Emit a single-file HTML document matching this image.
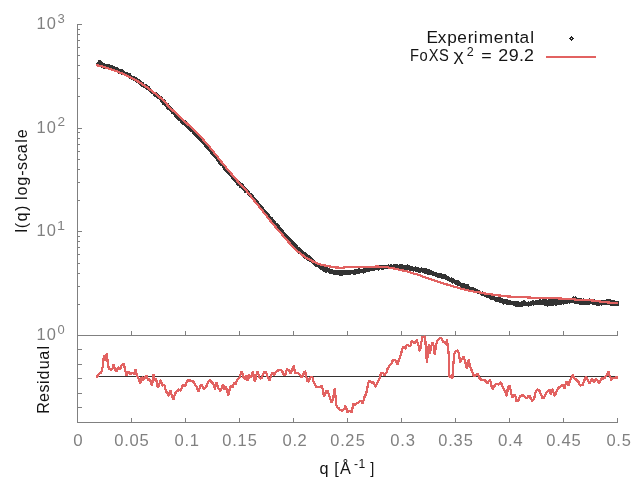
<!DOCTYPE html>
<html><head><meta charset="utf-8"><title>FoXS fit</title>
<style>
html,body{margin:0;padding:0;background:#fff;}
body{width:640px;height:480px;overflow:hidden;font-family:"Liberation Sans",sans-serif;}
svg{display:block;will-change:transform;}
svg text{font-family:"Liberation Sans",sans-serif;font-kerning:none;}
.tk{fill:#808080;}
.lb{fill:#141414;}
</style></head><body>
<svg width="640" height="480" viewBox="0 0 640 480">
<rect x="0" y="0" width="640" height="480" fill="#ffffff"/>
<g fill="#808080" shape-rendering="crispEdges">
<rect x="77" y="24" width="1" height="399"/>
<rect x="77" y="335" width="541" height="1"/>
<rect x="77" y="422" width="541" height="1"/>
<rect x="131" y="331" width="1" height="4"/>
<rect x="131" y="418" width="1" height="4"/>
<rect x="185" y="331" width="1" height="4"/>
<rect x="185" y="418" width="1" height="4"/>
<rect x="239" y="331" width="1" height="4"/>
<rect x="239" y="418" width="1" height="4"/>
<rect x="293" y="331" width="1" height="4"/>
<rect x="293" y="418" width="1" height="4"/>
<rect x="347" y="331" width="1" height="4"/>
<rect x="347" y="418" width="1" height="4"/>
<rect x="401" y="331" width="1" height="4"/>
<rect x="401" y="418" width="1" height="4"/>
<rect x="455" y="331" width="1" height="4"/>
<rect x="455" y="418" width="1" height="4"/>
<rect x="509" y="331" width="1" height="4"/>
<rect x="509" y="418" width="1" height="4"/>
<rect x="563" y="331" width="1" height="4"/>
<rect x="563" y="418" width="1" height="4"/>
<rect x="617" y="331" width="1" height="4"/>
<rect x="617" y="418" width="1" height="4"/>
<rect x="78" y="24" width="4" height="1"/>
<rect x="78" y="29" width="2" height="1"/>
<rect x="78" y="34" width="2" height="1"/>
<rect x="78" y="40" width="2" height="1"/>
<rect x="78" y="47" width="2" height="1"/>
<rect x="78" y="55" width="2" height="1"/>
<rect x="78" y="65" width="2" height="1"/>
<rect x="78" y="78" width="2" height="1"/>
<rect x="78" y="96" width="2" height="1"/>
<rect x="78" y="128" width="4" height="1"/>
<rect x="78" y="132" width="2" height="1"/>
<rect x="78" y="138" width="2" height="1"/>
<rect x="78" y="144" width="2" height="1"/>
<rect x="78" y="151" width="2" height="1"/>
<rect x="78" y="159" width="2" height="1"/>
<rect x="78" y="169" width="2" height="1"/>
<rect x="78" y="182" width="2" height="1"/>
<rect x="78" y="200" width="2" height="1"/>
<rect x="78" y="231" width="4" height="1"/>
<rect x="78" y="236" width="2" height="1"/>
<rect x="78" y="241" width="2" height="1"/>
<rect x="78" y="247" width="2" height="1"/>
<rect x="78" y="254" width="2" height="1"/>
<rect x="78" y="263" width="2" height="1"/>
<rect x="78" y="273" width="2" height="1"/>
<rect x="78" y="286" width="2" height="1"/>
<rect x="78" y="304" width="2" height="1"/>
<rect x="78" y="349" width="4" height="1"/>
<rect x="78" y="364" width="4" height="1"/>
<rect x="78" y="378" width="4" height="1"/>
<rect x="78" y="393" width="4" height="1"/>
<rect x="78" y="407" width="4" height="1"/>
</g>
<polygon shape-rendering="crispEdges" fill="#333333" points="95.8,63.15 96.8,62.36 97.8,61.42 98.8,60.08 99.8,59.92 100.8,60.65 101.8,61.82 102.8,61.99 103.8,63.1 104.8,63.43 105.8,63.99 106.8,64.22 107.8,63.62 108.8,64.25 109.8,64.39 110.8,65.35 111.8,65.54 112.8,65.18 113.8,66.37 114.8,66.18 115.8,66.79 116.8,67.7 117.8,67.37 118.8,68.21 119.8,68.93 120.8,69.72 121.8,69.38 122.8,69.44 123.8,69.73 124.8,71.18 125.8,71.78 126.8,71.97 127.8,72.3 128.8,73.31 129.8,73.44 130.8,73.5 131.8,74.96 132.8,75.84 133.8,75.87 134.8,76 135.8,76.85 136.8,77.33 137.8,78.07 138.8,79.08 139.8,79.28 140.8,80.65 141.8,81.74 142.8,81.71 143.8,82.54 144.8,84.1 145.8,83.72 146.8,84.52 147.8,85.74 148.8,85.64 149.8,86.87 150.8,88.81 151.8,88.92 152.8,89.9 153.8,91.05 154.8,91.86 155.8,92.02 156.8,92.46 157.8,93.24 158.8,94.28 159.8,95.31 160.8,95.67 161.8,96.65 162.8,97.39 163.8,99.05 164.8,99.39 165.8,100.59 166.8,102.37 167.8,102.93 168.8,103.5 169.8,104.96 170.8,106.74 171.8,106.71 172.8,108.52 173.8,109.64 174.8,110.72 175.8,112.18 176.8,112.29 177.8,113.12 178.8,114.59 179.8,115.27 180.8,116.9 181.8,117.92 182.8,118.83 183.8,118.97 184.8,120.11 185.8,120.61 186.8,121.89 187.8,123.83 188.8,124.79 189.8,125.79 190.8,125.74 191.8,126.69 192.8,128.27 193.8,129.55 194.8,130.27 195.8,130.45 196.8,132.59 197.8,133.34 198.8,133.52 199.8,134.72 200.8,136.73 201.8,137.08 202.8,138.68 203.8,138.99 204.8,141.23 205.8,141.31 206.8,143.63 207.8,143.89 208.8,144.74 209.8,147.06 210.8,147.59 211.8,148.6 212.8,150.33 213.8,150.78 214.8,152.02 215.8,153.29 216.8,154.37 217.8,155.93 218.8,157.5 219.8,158.53 220.8,159.89 221.8,161.18 222.8,162.31 223.8,162.95 224.8,164.44 225.8,166.38 226.8,166.96 227.8,168.42 228.8,168.93 229.8,170.27 230.8,172.14 231.8,172.99 232.8,174.62 233.8,175.34 234.8,176.34 235.8,177.4 236.8,178.57 237.8,179.94 238.8,181.16 239.8,181.51 240.8,182.78 241.8,182.65 242.8,183.47 243.8,184.36 244.8,186.44 245.8,186.64 246.8,188.44 247.8,189.83 248.8,189.99 249.8,191.33 250.8,193.24 251.8,193.17 252.8,194.78 253.8,195.53 254.8,197.47 255.8,198.44 256.8,198.89 257.8,200.93 258.8,201.35 259.8,203.56 260.8,203.81 261.8,204.92 262.8,206.44 263.8,207.85 264.8,209.61 265.8,209.84 266.8,211.59 267.8,212.07 268.8,214.07 269.8,214.37 270.8,216.32 271.8,216.71 272.8,217.84 273.8,219.54 274.8,220.84 275.8,221.6 276.8,223.13 277.8,223.59 278.8,224.31 279.8,225.48 280.8,227.26 281.8,228.13 282.8,229.16 283.8,230.26 284.8,232.18 285.8,232.66 286.8,234.81 287.8,235.65 288.8,236.19 289.8,237.05 290.8,238.46 291.8,238.98 292.8,240.52 293.8,241.2 294.8,241.82 295.8,242.94 296.8,244.31 297.8,245.17 298.8,247.36 299.8,247.39 300.8,248.27 301.8,248.93 302.8,249.94 303.8,251.78 304.8,251.62 305.8,252.56 306.8,252.96 307.8,254.47 308.8,254.92 309.8,255.49 310.8,256.45 311.8,257.2 312.8,258.37 313.8,259.56 314.8,260.59 315.8,261.34 316.8,261.69 317.8,263.26 318.8,263.49 319.8,263.14 320.8,264.93 321.8,265.31 322.8,265.08 323.8,266.18 324.8,267 325.8,267.09 326.8,267.63 327.8,267.39 328.8,267.66 329.8,268.02 330.8,268.89 331.8,269.19 332.8,269.2 333.8,269.83 334.8,269.61 335.8,270.03 336.8,270.25 337.8,269.37 338.8,270.32 339.8,270.38 340.8,270.07 341.8,270.09 342.8,270.51 343.8,270.3 344.8,269.56 345.8,270.36 346.8,270.07 347.8,269.32 348.8,270.14 349.8,270.03 350.8,269.69 351.8,269.5 352.8,269.99 353.8,269.99 354.8,268.52 355.8,269.5 356.8,268.85 357.8,268.37 358.8,268.24 359.8,268.04 360.8,269.07 361.8,268.78 362.8,268.77 363.8,267.75 364.8,268 365.8,267.2 366.8,267.69 367.8,267.12 368.8,267.23 369.8,266.65 370.8,267.69 371.8,267.6 372.8,267.3 373.8,266.3 374.8,266.91 375.8,265.75 376.8,265.37 377.8,264.9 378.8,265.02 379.8,264.84 380.8,265.07 381.8,264.74 382.8,265.32 383.8,264.83 384.8,265.21 385.8,264.84 386.8,264.8 387.8,264.78 388.8,264.07 389.8,264.91 390.8,264.22 391.8,263.93 392.8,264.83 393.8,264.34 394.8,264.15 395.8,263.56 396.8,263.64 397.8,264.12 398.8,264.77 399.8,264.21 400.8,263.93 401.8,264.22 402.8,264.15 403.8,264.68 404.8,264.99 405.8,264.58 406.8,264.59 407.8,264.25 408.8,265.74 409.8,265.31 410.8,266.03 411.8,265.43 412.8,265.82 413.8,266.8 414.8,266.88 415.8,265.91 416.8,267.31 417.8,267.08 418.8,267 419.8,267.75 420.8,268.09 421.8,267.02 422.8,267.73 423.8,268.45 424.8,268.18 425.8,268.26 426.8,268.08 427.8,268.75 428.8,269.72 429.8,269.4 430.8,270.51 431.8,270.12 432.8,271.01 433.8,271.12 434.8,271.72 435.8,271.61 436.8,272.83 437.8,273.01 438.8,272.34 439.8,273.6 440.8,272.92 441.8,273.43 442.8,273.56 443.8,274.16 444.8,274 445.8,274.62 446.8,275.57 447.8,276.2 448.8,276.25 449.8,277.37 450.8,277.64 451.8,277.3 452.8,277.9 453.8,278.68 454.8,278.79 455.8,279.91 456.8,279.66 457.8,280.22 458.8,280.58 459.8,280.93 460.8,282.56 461.8,282.64 462.8,283.18 463.8,282.41 464.8,283.46 465.8,283.61 466.8,283.64 467.8,283.93 468.8,284.66 469.8,286.18 470.8,286.77 471.8,286.5 472.8,287.69 473.8,287.05 474.8,287.95 475.8,288.15 476.8,289.58 477.8,289.35 478.8,290.3 479.8,289.71 480.8,291.39 481.8,291.59 482.8,291.46 483.8,292.76 484.8,292.23 485.8,292.68 486.8,292.6 487.8,294.24 488.8,294.64 489.8,294.01 490.8,295.38 491.8,294.91 492.8,295.27 493.8,296.27 494.8,296.4 495.8,296.74 496.8,296.74 497.8,296.65 498.8,297.63 499.8,297.15 500.8,297.56 501.8,297.59 502.8,298.34 503.8,299.45 504.8,298.78 505.8,298.74 506.8,299.8 507.8,299.34 508.8,300.08 509.8,300.46 510.8,300.51 511.8,300.92 512.8,300.69 513.8,301.09 514.8,300.56 515.8,300.59 516.8,301.35 517.8,301.27 518.8,301.6 519.8,302.2 520.8,302.07 521.8,300.83 522.8,301.02 523.8,300.04 524.8,300.3 525.8,301.64 526.8,301.72 527.8,301.78 528.8,301.06 529.8,301.87 530.8,301.24 531.8,300.57 532.8,300.31 533.8,300.33 534.8,300.74 535.8,299.69 536.8,300.46 537.8,299.79 538.8,300.31 539.8,299.12 540.8,299.5 541.8,299.78 542.8,299.05 543.8,299.33 544.8,299.12 545.8,299.07 546.8,299.1 547.8,299.81 548.8,299.11 549.8,299.62 550.8,298.61 551.8,299.19 552.8,299.17 553.8,299.25 554.8,298.62 555.8,299.5 556.8,298.72 557.8,299.12 558.8,298.8 559.8,299.18 560.8,298.46 561.8,299.29 562.8,298.29 563.8,299.19 564.8,298.4 565.8,298.95 566.8,298.85 567.8,298.68 568.8,298.56 569.8,297.96 570.8,298.49 571.8,297.21 572.8,296.91 573.8,295.69 574.8,296.85 575.8,296.21 576.8,297.54 577.8,297.95 578.8,297.85 579.8,298.13 580.8,298.08 581.8,298.33 582.8,298.6 583.8,298.23 584.8,298.89 585.8,299.27 586.8,298.84 587.8,298.86 588.8,298.38 589.8,298.33 590.8,299.01 591.8,299.31 592.8,299.56 593.8,299.37 594.8,299.48 595.8,300.23 596.8,300.17 597.8,300.04 598.8,299.32 599.8,299.78 600.8,300.41 601.8,300.28 602.8,299.24 603.8,300.05 604.8,300.09 605.8,299.81 606.8,299.22 607.8,298.64 608.8,298.92 609.8,298.52 610.8,298.95 611.8,299.93 612.8,299.47 613.8,299.65 614.8,300.64 615.8,301.2 616.8,301.02 617.8,300.58 618.8,301.54 618.8,305.29 617.8,306.32 616.8,306.35 615.8,306.08 614.8,305.91 613.8,305.95 612.8,306.11 611.8,306.06 610.8,305.92 609.8,304.66 608.8,304.66 607.8,304.63 606.8,305.61 605.8,304.59 604.8,304.84 603.8,304.74 602.8,305.07 601.8,305.9 600.8,304.83 599.8,305.94 598.8,305.97 597.8,305.74 596.8,305.99 595.8,304.76 594.8,305.04 593.8,304.52 592.8,305.47 591.8,304.43 590.8,304.31 589.8,304.83 588.8,304.88 587.8,304.49 586.8,304.66 585.8,305.56 584.8,304.86 583.8,305.46 582.8,305.08 581.8,305.24 580.8,304.99 579.8,304.46 578.8,304.66 577.8,303.91 576.8,303.62 575.8,304.17 574.8,304.45 573.8,303.36 572.8,303.42 571.8,303.33 570.8,303.03 569.8,304.12 568.8,303.4 567.8,303.48 566.8,304.28 565.8,304.12 564.8,303.79 563.8,305.16 562.8,304.05 561.8,305.31 560.8,304.72 559.8,305.41 558.8,304.59 557.8,305.06 556.8,305.38 555.8,305.95 554.8,305.6 553.8,305.22 552.8,306.39 551.8,306.42 550.8,306.63 549.8,305.74 548.8,305.83 547.8,307.05 546.8,306.33 545.8,306.55 544.8,306.2 543.8,305.16 542.8,305.64 541.8,304.7 540.8,305.25 539.8,304.56 538.8,305.26 537.8,304.86 536.8,304.92 535.8,305.19 534.8,305.11 533.8,305.8 532.8,305.38 531.8,305.75 530.8,306.24 529.8,305.66 528.8,306.73 527.8,306.24 526.8,306.09 525.8,306.35 524.8,305.76 523.8,305.86 522.8,306.69 521.8,306.97 520.8,306.56 519.8,307.76 518.8,306.9 517.8,307.7 516.8,306.5 515.8,307.03 514.8,305.9 513.8,305.59 512.8,305.59 511.8,305.24 510.8,304.76 509.8,305.57 508.8,305.23 507.8,304.77 506.8,304.72 505.8,304.69 504.8,304.02 503.8,305.19 502.8,304.79 501.8,303.79 500.8,302.71 499.8,303.27 498.8,301.93 497.8,301.93 496.8,301.52 495.8,301.8 494.8,301.41 493.8,300.28 492.8,300.37 491.8,299.69 490.8,300.28 489.8,299.15 488.8,298.07 487.8,298.46 486.8,298.18 485.8,297.05 484.8,297.22 483.8,296.68 482.8,295.8 481.8,296.28 480.8,294.98 479.8,294.31 478.8,293.88 477.8,294.57 476.8,293.09 475.8,293.18 474.8,293.57 473.8,292.56 472.8,292.12 471.8,292.24 470.8,290.93 469.8,290.36 468.8,290.23 467.8,289.3 466.8,289.31 465.8,288.97 464.8,288.12 463.8,289.02 462.8,287.81 461.8,288.39 460.8,287.81 459.8,286.52 458.8,285.43 457.8,286.11 456.8,284.69 455.8,284.97 454.8,283.89 453.8,283.22 452.8,283.95 451.8,283.33 450.8,282.25 449.8,281.98 448.8,281.31 447.8,281.54 446.8,280.26 445.8,280.05 444.8,278.99 443.8,279.72 442.8,278.53 441.8,278.88 440.8,277.72 439.8,278.44 438.8,277.56 437.8,277.64 436.8,277.59 435.8,277.03 434.8,276.09 433.8,276.09 432.8,276.29 431.8,275.27 430.8,275.8 429.8,274.77 428.8,274.45 427.8,274.91 426.8,274.32 425.8,273.59 424.8,273.55 423.8,273.4 422.8,273.24 421.8,272.41 420.8,272.44 419.8,273.2 418.8,273.2 417.8,271.72 416.8,272.19 415.8,272.33 414.8,271.17 413.8,272.14 412.8,271.38 411.8,270.91 410.8,270.66 409.8,271.04 408.8,270.14 407.8,270.15 406.8,270.1 405.8,270.26 404.8,270.01 403.8,270.57 402.8,269.59 401.8,269.24 400.8,269.11 399.8,269.05 398.8,270.12 397.8,268.91 396.8,269.74 395.8,268.61 394.8,268.89 393.8,268.72 392.8,268.63 391.8,269.26 390.8,268.66 389.8,268.34 388.8,268.27 387.8,269.14 386.8,268.91 385.8,268.39 384.8,269.13 383.8,269.68 382.8,269.69 381.8,270.05 380.8,269.14 379.8,269.4 378.8,270.5 377.8,270.52 376.8,269.61 375.8,270.34 374.8,270.76 373.8,270.69 372.8,270.75 371.8,271.54 370.8,270.93 369.8,272.05 368.8,272.41 367.8,271.96 366.8,272.14 365.8,272.65 364.8,272.22 363.8,273.6 362.8,273.49 361.8,273.37 360.8,273.01 359.8,273.72 358.8,273.96 357.8,274.6 356.8,273.79 355.8,274.91 354.8,274.33 353.8,275.14 352.8,274.24 351.8,274.26 350.8,274.88 349.8,274.77 348.8,275.46 347.8,274.95 346.8,274.67 345.8,275.16 344.8,275.17 343.8,275 342.8,275.84 341.8,275.92 340.8,275.44 339.8,276.21 338.8,275.08 337.8,275.11 336.8,275.03 335.8,274.63 334.8,275.05 333.8,275.11 332.8,273.83 331.8,274.53 330.8,274.22 329.8,274.24 328.8,273.17 327.8,272.31 326.8,272.84 325.8,272.72 324.8,272.23 323.8,271.84 322.8,270.81 321.8,270.62 320.8,269.76 319.8,269.45 318.8,268.58 317.8,267.29 316.8,266.86 315.8,266.93 314.8,265.92 313.8,265.04 312.8,263.92 311.8,262.92 310.8,262.75 309.8,261.86 308.8,261.5 307.8,260.8 306.8,259.94 305.8,259.21 304.8,259.34 303.8,257.96 302.8,257.74 301.8,256.21 300.8,255.43 299.8,254.33 298.8,254.13 297.8,253.23 296.8,251.12 295.8,250.77 294.8,248.75 293.8,247.89 292.8,247.14 291.8,246.34 290.8,245.51 289.8,243.8 288.8,243.22 287.8,241.62 286.8,240.12 285.8,239.51 284.8,238.39 283.8,236.4 282.8,235.18 281.8,234.17 280.8,233.09 279.8,231.94 278.8,230.88 277.8,229.9 276.8,228.87 275.8,227.47 274.8,227.35 273.8,225.29 272.8,224.78 271.8,223.53 270.8,222.21 269.8,221.17 268.8,219.21 267.8,217.45 266.8,217.11 265.8,216.18 264.8,214.02 263.8,213.74 262.8,211.44 261.8,211.15 260.8,209.23 259.8,209.02 258.8,207.84 257.8,205.98 256.8,204.52 255.8,203.48 254.8,201.69 253.8,200.91 252.8,199.73 251.8,198.78 250.8,198.32 249.8,196.81 248.8,196.43 247.8,195.42 246.8,193.24 245.8,193.01 244.8,193.34 243.8,191.99 242.8,190.35 241.8,189.59 240.8,188.12 239.8,188.21 238.8,186.22 237.8,186.04 236.8,185.03 235.8,183.34 234.8,182.45 233.8,181.06 232.8,179.86 231.8,179.18 230.8,177.71 229.8,176.26 228.8,175.54 227.8,174.73 226.8,173.24 225.8,172.18 224.8,170.91 223.8,170.13 222.8,168.03 221.8,166.56 220.8,166.04 219.8,165.34 218.8,164.08 217.8,162.21 216.8,161.61 215.8,159.68 214.8,158.67 213.8,157.02 212.8,155.67 211.8,155.41 210.8,154.34 209.8,152.78 208.8,150.73 207.8,150.32 206.8,149.31 205.8,148.39 204.8,147.2 203.8,145.12 202.8,143.99 201.8,143.91 200.8,141.98 199.8,141.43 198.8,140.43 197.8,139.01 196.8,138.46 195.8,137.31 194.8,136.52 193.8,135.1 192.8,134.7 191.8,132.75 190.8,131.8 189.8,131.01 188.8,130.91 187.8,129.17 186.8,128.56 185.8,127.04 184.8,125.75 183.8,125.5 182.8,124.87 181.8,124.02 180.8,123.33 179.8,121.32 178.8,121.16 177.8,120.21 176.8,118.71 175.8,118.23 174.8,117.66 173.8,115.28 172.8,114.4 171.8,114.47 170.8,112.32 169.8,111.41 168.8,110.13 167.8,109.62 166.8,109.28 165.8,107.01 164.8,106.31 163.8,105.15 162.8,105.29 161.8,103.69 160.8,102.52 159.8,100.4 158.8,99.67 157.8,98.66 156.8,98.57 155.8,97.36 154.8,97.04 153.8,96.14 152.8,94.24 151.8,94.22 150.8,93.54 149.8,92.59 148.8,91.6 147.8,90.6 146.8,90.13 145.8,89 144.8,88.11 143.8,88.35 142.8,86.92 141.8,86.76 140.8,86.01 139.8,84.65 138.8,84.63 137.8,83.13 136.8,83.24 135.8,81.71 134.8,81.57 133.8,81.24 132.8,80.08 131.8,80.46 130.8,79.43 129.8,78.76 128.8,78.53 127.8,77.22 126.8,76.92 125.8,76.09 124.8,76.01 123.8,75.71 122.8,75.02 121.8,74.95 120.8,73.62 119.8,73.42 118.8,73.8 117.8,72.94 116.8,72.67 115.8,71.67 114.8,71.66 113.8,71.11 112.8,70.48 111.8,69.96 110.8,70.08 109.8,70.05 108.8,70.06 107.8,68.84 106.8,68.84 105.8,68.26 104.8,68.51 103.8,69.04 102.8,67.78 101.8,68.4 100.8,67.14 99.8,67.4 98.8,67.34 97.8,67.01 96.8,66.42 95.8,66.11"/>
<polyline shape-rendering="crispEdges" fill="none" stroke="#e26261" stroke-width="2.25" stroke-linejoin="round" stroke-linecap="butt" points="96.25,65.25 98.25,65.57 100.25,65.98 102.25,66.44 104.25,66.99 106.25,67.65 108.25,68.33 110.25,68.99 112.25,69.65 114.25,70.33 116.25,71.07 118.25,71.86 120.25,72.68 122.25,73.53 124.25,74.41 126.25,75.32 128.25,76.25 130.25,77.21 132.25,78.21 134.25,79.27 136.25,80.43 138.25,81.65 140.25,82.91 142.25,84.2 144.25,85.53 146.25,86.9 148.25,88.32 150.25,89.8 152.25,91.31 154.25,92.86 156.25,94.45 158.25,96.09 160.25,97.72 162.25,99.36 164.25,101.15 166.25,103.37 168.25,105.94 170.25,108 172.25,109.81 174.25,111.57 176.25,113.41 178.25,115.28 180.25,117.16 182.25,119.04 184.25,120.92 186.25,122.81 188.25,124.71 190.25,126.62 192.25,128.54 194.25,130.49 196.25,132.45 198.25,134.45 200.25,136.51 202.25,138.64 204.25,140.84 206.25,143.1 208.25,145.44 210.25,147.84 212.25,150.29 214.25,152.79 216.25,155.33 218.25,157.87 220.25,160.38 222.25,162.87 224.25,165.33 226.25,167.77 228.25,170.18 230.25,172.57 232.25,174.93 234.25,177.26 236.25,179.57 238.25,181.86 240.25,184.13 242.25,186.37 244.25,188.52 246.25,190.6 248.25,193.01 250.25,195.6 252.25,198.19 254.25,200.68 256.25,203.16 258.25,205.63 260.25,208.11 262.25,210.58 264.25,213.06 266.25,215.58 268.25,218.13 270.25,220.66 272.25,223.13 274.25,225.56 276.25,227.94 278.25,230.26 280.25,232.48 282.25,234.69 284.25,236.99 286.25,239.4 288.25,241.68 290.25,243.88 292.25,245.99 294.25,248.03 296.25,250 298.25,251.82 300.25,253.47 302.25,254.99 304.25,256.4 306.25,257.71 308.25,258.93 310.25,260.07 312.25,261.12 314.25,262.12 316.25,263.02 318.25,263.75 320.25,264.36 322.25,264.89 324.25,265.36 326.25,265.79 328.25,266.18 330.25,266.55 332.25,266.93 334.25,267.28 336.25,267.5 338.25,267.62 340.25,267.71 342.25,267.75 344.25,267.55 346.25,267.14 348.25,266.97 350.25,266.92 352.25,266.9 354.25,266.9 356.25,266.9 358.25,266.9 360.25,266.9 362.25,266.9 364.25,266.9 366.25,266.89 368.25,266.85 370.25,266.79 372.25,266.71 374.25,266.65 376.25,266.61 378.25,266.61 380.25,266.68 382.25,266.79 384.25,266.94 386.25,267.17 388.25,267.47 390.25,267.79 392.25,268.16 394.25,268.57 396.25,269 398.25,269.44 400.25,269.89 402.25,270.34 404.25,270.78 406.25,271.25 408.25,271.8 410.25,272.41 412.25,273.02 414.25,273.62 416.25,274.21 418.25,274.84 420.25,275.52 422.25,276.25 424.25,276.98 426.25,277.69 428.25,278.38 430.25,279.06 432.25,279.74 434.25,280.42 436.25,281.09 438.25,281.75 440.25,282.39 442.25,283.03 444.25,283.66 446.25,284.27 448.25,284.87 450.25,285.47 452.25,286.07 454.25,286.67 456.25,287.25 458.25,287.83 460.25,288.39 462.25,288.94 464.25,289.44 466.25,289.93 468.25,290.39 470.25,290.84 472.25,291.29 474.25,291.68 476.25,291.96 478.25,292.18 480.25,292.51 482.25,292.94 484.25,293.36 486.25,293.7 488.25,293.99 490.25,294.26 492.25,294.54 494.25,294.82 496.25,295.09 498.25,295.35 500.25,295.6 502.25,295.83 504.25,296.05 506.25,296.27 508.25,296.46 510.25,296.62 512.25,296.73 514.25,296.82 516.25,296.9 518.25,296.97 520.25,297.02 522.25,297.09 524.25,297.2 526.25,297.34 528.25,297.47 530.25,297.58 532.25,297.68 534.25,297.74 536.25,297.75 538.25,297.75 540.25,297.75 542.25,297.75 544.25,297.75 546.25,297.75 548.25,297.75 550.25,297.75 552.25,297.75 554.25,297.87 556.25,298.18 558.25,298.46 560.25,298.58 562.25,298.67 564.25,298.73 566.25,298.79 568.25,298.85 570.25,298.94 572.25,299.09 574.25,299.36 576.25,299.63 578.25,299.79 580.25,299.89 582.25,299.96 584.25,300.01 586.25,300.08 588.25,300.15 590.25,300.27 592.25,300.46 594.25,300.73 596.25,301 598.25,301.29 600.25,301.6 602.25,301.87 604.25,302.09 606.25,302.27 608.25,302.45 610.25,302.67 612.25,302.92 614.25,303.08 616.25,303.1 618.25,303.1"/>
<rect x="97" y="376" width="521" height="1" fill="#333333" shape-rendering="crispEdges"/>
<polyline shape-rendering="crispEdges" fill="none" stroke="#e26261" stroke-width="2.3" stroke-linejoin="bevel" points="96.9,377.75 97.5,376.04 98.4,374.4 98.5,374.4 99.5,373.48 100.5,373.15 101.25,372.5 101.5,371.74 102.5,367.23 102.75,366.9 103.5,359.44 104.1,354.7 104.5,357.04 105.3,360.3 105.5,359.03 106.5,354.3 106.9,352.8 107.5,360.36 107.8,363.1 108.5,366.96 108.75,368.4 109.5,369.3 110.5,369.38 111,369.7 111.5,369.58 112.5,368.75 113.5,364.68 113.8,364.1 114.5,367.25 114.9,368.75 115.5,370.53 116.25,371.6 116.5,371 117.5,368.76 118.1,366.9 118.5,367.89 119.5,368.9 119.6,369.7 120.5,368.26 121.5,365.9 122.5,364.38 123.2,363.1 123.5,363.76 124.5,366.52 124.7,367.8 125.5,371.47 126.5,374.87 126.6,375.3 127.5,373.76 128.4,371.6 128.5,372.28 129.5,373.52 130.3,374.4 130.5,374.79 131.5,373.05 132.2,372.5 132.5,373.22 133.5,373.72 134.1,374.4 134.5,373.5 135.5,369.66 135.6,368.75 136.5,373.38 136.9,376.25 137.5,376.76 138.5,378.58 139.1,380 139.5,381.83 140.25,383.4 140.5,382.16 141.5,377.84 141.6,377.2 142.5,378.32 143.4,380 143.5,379.85 144.5,378.03 145.5,376.33 146.25,375.3 146.5,376.05 147.5,378.59 148.1,380 148.5,380.38 149.5,379.59 150,379.1 150.5,381.41 151.5,384.73 151.9,385.6 152.5,381.81 153.4,374.4 153.5,375.07 154.5,378.67 154.7,380 155.5,379.34 156,378.1 156.5,381.22 157.5,386.09 157.9,387.5 158.5,386.1 159.4,383.75 159.5,383.8 160.5,380.6 160.9,380 161.5,383.05 162.2,385.6 162.5,385.56 163.5,384.68 164.1,384.7 164.5,385.33 165.5,389.55 165.9,390.3 166.5,392.19 167.5,392.92 167.8,394.1 168.5,395.49 169.1,395.9 169.5,393.83 170.25,390.3 170.5,390.68 171.5,394.36 171.6,395 172.5,397.73 173.4,399.7 173.5,399.87 174.5,395.24 175.3,393.1 175.5,393.07 176.5,391.29 177.2,391.25 177.5,391.26 178.5,389.75 179.1,389.4 179.5,390.13 180.5,390.77 180.9,390.3 181.5,388.54 182.5,386.28 182.8,384.7 183.5,385.13 184.5,385.81 184.7,386.6 185.5,385.14 186.5,382.34 186.6,382.8 187.5,380.98 188.4,380 188.5,379.9 189.5,380.5 190.5,380.18 191.25,380.9 191.5,380.35 192.5,381.85 193.5,381.43 194.1,381.9 194.5,383.36 195.5,385.33 195.9,385.6 196.5,386.78 197.5,389.16 198.4,391.25 198.5,391.02 199.5,388.63 200.5,385.99 200.6,385.6 201.5,385.06 201.9,384.7 202.5,386.15 203.5,388.74 204.1,389.4 204.5,388.8 205.5,387.18 206.5,386.06 206.6,385.6 207.5,383.52 208.5,381.7 209.5,380.75 209.75,379.6 210.5,380.61 211.5,381.95 212.2,382.8 212.5,382.56 213.5,384.6 214.1,385.6 214.5,387.4 215,389.4 215.5,386.53 216.5,382.8 217.5,385.73 218.2,387.5 218.5,388.28 219.5,389.45 220.1,391.25 220.5,390.67 221.5,388.54 221.6,388.4 222.5,386.09 222.9,384.7 223.5,386.02 224.5,389.05 224.75,389.4 225.5,387.91 225.9,386.6 226.5,388.33 227.5,392.38 228.1,395.4 228.5,394.05 229.5,390.45 229.6,389.4 230.5,386.42 230.9,385.6 231.5,386.3 232.4,387.5 232.5,387.35 233.5,384.21 234.1,382.8 234.5,383.12 235.5,384.31 235.6,384.7 236.5,381.86 237.5,379.1 238.5,378.39 239.5,377.13 239.75,377.2 240.5,374.76 241.5,372.28 241.6,371.6 242.5,373.73 243.1,376.25 243.5,376.95 244.5,378.68 245,379.1 245.5,377.37 246.3,375.3 246.5,375.66 247.5,380.21 247.8,380.9 248.5,377.92 249.3,375.3 249.5,375.09 250.5,376.55 251,377.2 251.5,376 252.5,372.22 252.9,371.6 253.5,374.44 254.5,379.61 254.9,381.9 255.5,379.43 256.25,375.3 256.5,374.53 257.5,372.37 257.6,371.6 258.5,374.5 259.1,377.2 259.5,377.26 260.5,378.42 260.9,378.5 261.5,378.03 262.5,375.74 262.8,375.3 263.5,373.55 264.5,371.46 264.7,371.6 265.5,372.2 266,372.5 266.5,373.32 267.5,376.25 268.5,378.35 269.5,380.06 269.75,380 270.5,377.21 271.25,375.3 271.5,374.47 272.5,373.14 272.6,372.5 273.5,374.05 274.1,374.75 274.5,374.59 275.5,372.47 275.9,372.1 276.5,371.11 277.5,370.55 277.8,370.6 278.5,370.68 279.5,369.47 279.7,369.7 280.5,369.81 281.5,370.32 281.9,370.6 282.5,371.97 283.5,374.43 283.8,375.3 284.5,375.56 285.5,374.01 285.7,374.4 286.5,370.69 287.2,368.75 287.5,369.52 288.5,369.93 289.1,369.7 289.5,371.52 290.4,373.4 290.5,373.06 291.5,371.32 291.9,369.7 292.5,369.07 293.5,366.02 293.75,365.9 294.5,369.91 295.1,372.5 295.5,372.97 296.5,372.73 296.9,372.5 297.5,372.98 298.5,373.42 299.4,374.4 299.5,374.33 300.5,375.69 301.5,376.99 301.6,377.75 302.5,376.4 303.1,375.3 303.5,373.86 304.5,371.72 304.6,371 305.5,372.72 305.9,374.4 306.5,377.33 307.5,380.99 307.8,381.9 308.5,381.09 309.5,379.06 309.7,378.1 310.5,377.88 311.5,376.46 311.6,376.25 312.25,377.2 312.5,377.28 313.5,381.33 314.1,382.8 314.5,383.14 315.5,385.32 316,386.6 316.5,387.02 317.5,387.2 318.4,387.5 318.5,387.31 319.5,387.38 320.5,386.26 321.25,385.6 321.5,386.01 322.5,388.42 322.75,389.4 323.5,394.07 324.1,396.9 324.5,395.61 325.5,392.9 325.9,391.25 326.5,391.04 327.5,390.83 327.8,391.25 328.5,393.38 329.5,396.75 329.7,396.9 330.5,399.43 331.2,402.5 331.5,402.25 332.5,400.22 332.9,398.75 333.5,395.82 334.5,390.25 334.75,388.4 335.5,396.16 336.25,405.3 336.5,405.86 337.5,407.7 338.1,408.1 338.5,407.87 339.5,409.18 340,410 340.5,409.88 341.5,410.64 342.25,410.9 342.5,410.55 343.5,409.65 344.1,409.1 344.5,408.73 345.5,405.74 345.6,406.25 346.5,408.73 347.5,412.8 348.5,411.28 349.4,410.9 349.5,410.42 350.5,410.8 351.5,412.52 351.6,411.9 352.5,407.9 353.1,404.4 353.5,404.01 354.5,405.07 355,405.3 355.5,404.54 356.5,403.54 356.9,403.4 357.5,402.9 358.5,402.83 358.75,402.5 359.5,401.67 360.25,400.6 360.5,400.72 361.5,401.72 362.5,403.4 363.5,400.21 364.4,397.8 364.5,397.02 365.5,395.08 366.25,393.1 366.5,392.14 367.5,386.61 368.1,383.75 368.5,382.4 369.5,380.64 369.6,380.9 370.5,381.62 371.5,382.8 372.5,382.47 373.4,381.9 373.5,382.55 374.5,384.53 375.25,386.6 375.5,386.51 376.5,384.2 377.1,382.8 377.5,382.11 378.5,380.56 379,380 379.5,378.26 380.5,375.07 380.9,373.4 381.5,372.87 382.5,372.55 382.75,372.1 383.5,373.34 384.5,374.77 384.6,375.3 385.5,373.87 386.3,372.5 386.5,372.27 387.5,368.9 387.8,368.75 388.5,367.26 389.5,365.29 389.7,365 390.5,364.73 391.5,363.81 391.6,363.1 392.5,361.07 393.4,359.4 393.5,359.99 394.5,360.22 395,360 395.5,360.55 396.5,362.59 397.5,364.4 398.5,360.87 399.5,358.84 400,356.9 400.5,355.31 401.5,351.99 401.9,350 402.5,348.53 403.1,346.25 403.5,346.88 404.5,347.98 405.5,348.74 405.6,348.75 406.5,345.18 406.9,344.4 407.5,345.12 408.5,345.31 408.75,346.25 409.5,345.49 410.5,346.02 410.6,345.6 411.5,341.95 411.9,341.25 412.5,341.28 413.5,342.29 413.75,343.1 414.5,343.39 415.5,342.08 415.6,342.5 416.5,340.1 416.9,340 417.5,342.68 418.1,344.4 418.5,345.31 419.5,349.93 420,351.25 420.5,347.99 421.25,342.5 421.5,341.75 422.5,336.4 423.5,337.03 424.5,336.51 425,336.4 425.5,342.94 425.6,343.75 426.5,356.08 426.9,362.5 427.5,356 428.1,348.75 428.5,346.54 429,343.75 429.5,349.05 430,353.75 430.5,350.2 431.25,346.25 431.5,345.73 432.5,341.9 433.5,345.99 433.75,346.25 434.5,352.2 434.75,355 435.5,348.75 436,345 436.5,343.42 437.5,340 438.5,339.8 439.4,338.75 439.5,338.39 440.5,338.3 441.5,338.4 441.9,338.75 442.5,340.16 443.1,341.25 443.5,341.99 444.5,342.46 445,343.1 445.5,343.43 446.25,344.4 446.5,342.08 446.9,338.75 447.5,343.83 447.75,346.25 448.5,352.7 448.75,355 449.4,376.9 449.5,376.33 450.5,377.02 451.5,377.8 452.5,377.25 453.1,366.25 453.5,362.28 454.4,353.75 454.5,353.93 455.5,351.4 456.25,350.6 456.5,350.79 457.5,350.55 458.1,350 458.5,352.47 459,355 459.5,358.02 460.25,362.5 460.5,361.91 461.5,359.86 461.9,358.75 462.5,358.61 463.5,356.9 464.5,359.31 465,361.25 465.5,362.66 466.5,367.52 466.9,368.75 467.5,366.3 468.5,360.69 468.75,359.4 469.5,363.43 470,366.25 470.5,367.87 471.5,369.76 471.9,371.25 472.5,372.55 473.5,375.15 473.75,376.25 474.5,375.98 475.5,375.09 475.6,375.3 476.5,374.18 477.5,374 477.9,373.4 478.5,375.88 479.5,378.04 479.75,379.1 480.5,379.66 481.5,379.62 482.2,380 482.5,380.44 483.5,379.88 484.4,379.6 484.5,379.44 485.5,381.03 486.5,382.42 486.9,383.75 487.5,382.98 488.4,381.9 488.5,381.62 489.5,380.21 490.1,380 490.5,381.56 491.5,385.91 491.6,386.6 492.5,388.92 492.9,389.4 493.5,387.38 494.5,386.02 494.75,384.7 495.5,384.29 496.5,383.94 496.6,383.75 497.5,384.16 498.5,384.7 499.5,384 500.5,382.82 500.9,381.9 501.5,383.75 502.5,386.59 502.8,387.5 503.5,388.84 504.5,390.5 504.7,390.3 505.5,392.52 506.5,395.93 506.6,395.9 507.5,390.73 507.9,387.5 508.5,386.69 509.4,385.6 509.5,385.58 510.5,389.21 510.7,390.3 511.5,394.6 512.2,397.8 512.5,397.49 513.5,396.02 513.7,395 514.5,394.94 515,394.1 515.5,396.24 516.5,401.6 517.5,400.64 518.4,400.6 518.5,400.01 519.5,397.37 520.25,395.9 520.5,396.07 521.5,395.79 522.1,395 522.5,395.72 523.5,395.2 524.4,395.9 524.5,396.57 525.5,397.33 526.25,398.75 526.5,398.26 527.5,397.14 528.1,395.9 528.5,395.51 529.5,395.98 530.25,396.9 530.5,398 531.5,399.78 532.1,401.6 532.5,400.8 533.5,399.61 534,398.75 534.5,397.02 535.5,392.14 535.9,391.25 536.5,390.42 537.5,389.56 537.75,389.4 538.5,390.13 539.5,390.74 539.6,391.25 540.5,393.57 541.5,395.9 542.5,398.04 543.4,398.75 543.5,398.43 544.5,396.94 545.5,394.64 545.6,395 546.5,392.91 547.5,391.25 548.5,390.51 549.4,389.4 549.5,389.17 550.5,393.39 550.9,394.1 551.5,392.5 552.2,389.4 552.5,389.48 553.5,392.2 554.5,395.28 555,395.9 555.5,394.25 556.5,391.86 556.9,390.3 557.5,389.75 558.5,387.59 558.75,387.5 559.5,387.38 560.5,386.86 560.6,386.6 561.5,386.13 562.5,384.7 563.5,386.32 564.4,388.4 564.5,388.35 565.5,384.59 566.25,380.9 566.5,381.66 567.5,383.56 568.5,385.6 569.5,382.11 570.4,380 570.5,379.77 571.5,377.39 572.5,375.71 572.8,374.75 573.5,376.6 574.5,378.74 574.7,379.1 575.5,379.03 576.5,380.16 576.6,380 577.5,381.13 578.4,381.9 578.5,381.65 579.5,384.59 580.3,385.6 580.5,385.74 581.5,384.63 582.5,385.4 582.75,384.7 583.5,382.29 584.5,380.02 584.6,380 585.5,377.95 585.9,376.6 586.5,377.81 587.5,379.54 587.8,380 588.5,381.59 589.5,383.3 589.7,383.75 590.5,381.94 591.5,379.81 592.1,379.1 592.5,379.09 593.5,381.47 594,381.9 594.5,381.52 595.5,379.75 595.9,379.1 596.5,380.02 597.5,380.46 597.75,380.9 598.5,382.16 599.1,383.75 599.5,382.55 600.5,380.65 600.9,379.1 601.5,378.31 602.5,378.72 603.4,378.5 603.5,378.08 604.5,378.1 605.25,377.2 605.5,376.74 606.5,375.68 607.1,375.3 607.5,374.03 608.4,371.6 608.5,372 609.5,375.77 609.75,376.25 610.5,377.72 611.25,379.6 611.5,379.94 612.5,378.31 613.1,378.5 613.5,378.09 614.5,377.64 615,378.1 615.5,377.36 616.5,377.89 617.25,377.2 617.5,377.52"/>
<rect x="546" y="56" width="50" height="2" fill="#e26261" shape-rendering="crispEdges"/>
<g fill="#222" shape-rendering="crispEdges"><rect x="571" y="36" width="1" height="5"/><rect x="569" y="38" width="5" height="1"/><rect x="570" y="37" width="3" height="3"/><rect x="571" y="38" width="1" height="1" fill="#e8e8e8"/></g>
<text class="tk" transform="translate(37.8 28.9) scale(1.0104 1)" font-size="16.3" x="-1.33 8.81">10</text>
<text class="tk" transform="translate(58.1 22.75) scale(1.0028 1)" font-size="13.04" x="-0.5">3</text>
<text class="tk" transform="translate(37.8 132.57) scale(1.0104 1)" font-size="16.3" x="-1.33 8.81">10</text>
<text class="tk" transform="translate(58.1 126.42) scale(1.0437 1)" font-size="13.04" x="-0.66">2</text>
<text class="tk" transform="translate(37.8 236.23) scale(1.0104 1)" font-size="16.3" x="-1.33 8.81">10</text>
<text class="tk" transform="translate(58.1 230.08) scale(1.1028 1)" font-size="13.04" x="-0.99">1</text>
<text class="tk" transform="translate(37.8 339.9) scale(1.0104 1)" font-size="16.3" x="-1.33 8.81">10</text>
<text class="tk" transform="translate(58.1 333.75) scale(0.9946 1)" font-size="13.04" x="-0.51">0</text>
<text class="tk" transform="translate(73.97 445.9) scale(1.0347 1)" font-size="16.3" x="-0.64">0</text>
<text class="tk" transform="translate(114.81 445.9) scale(1.0184 1)" font-size="16.3" x="-0.57 9.19 14.42 24.35">0.05</text>
<text class="tk" transform="translate(175.04 445.9) scale(1.0174 1)" font-size="16.3" x="-0.57 9.2 14.35">0.1</text>
<text class="tk" transform="translate(222.81 445.9) scale(1.0043 1)" font-size="16.3" x="-0.52 9.35 14.6 24.76">0.15</text>
<text class="tk" transform="translate(283.11 445.9) scale(1.0207 1)" font-size="16.3" x="-0.58 9.16 14.17">0.2</text>
<text class="tk" transform="translate(330.81 445.9) scale(1.0068 1)" font-size="16.3" x="-0.53 9.32 14.42 24.68">0.25</text>
<text class="tk" transform="translate(390.95 445.9) scale(1.0187 1)" font-size="16.3" x="-0.58 9.18 14.43">0.3</text>
<text class="tk" transform="translate(438.81 445.9) scale(1.0055 1)" font-size="16.3" x="-0.52 9.33 14.68 24.72">0.35</text>
<text class="tk" transform="translate(498.75 445.9) scale(1.0372 1)" font-size="16.3" x="-0.65 8.98 14.07">0.4</text>
<text class="tk" transform="translate(546.81 445.9) scale(1.0187 1)" font-size="16.3" x="-0.58 9.18 14.41 24.34">0.45</text>
<text class="tk" transform="translate(607 445.9) scale(1.0109 1)" font-size="16.3" x="-0.54 9.27 14.5">0.5</text>
<text class="lb" transform="translate(27.2 231.5) rotate(-90) scale(0.9916 1)" font-size="16.3" x="-1.46 3.23 10.02 20.67 26.13 31.73 36.22 46.22 56.21 62.11 70.49 79.05 89.59 94.14">I(q) log-scale</text>
<text class="lb" transform="translate(48.8 412.1) rotate(-90) scale(0.9871 1)" font-size="16.3" x="-1.58 10.15 19.9 28.53 33.09 43.44 52.98 63.51">Residual</text>
<text class="lb" transform="translate(320.1 473.6) scale(0.9939 1)" font-size="16.3" x="-0.52 9.09 14.26 20.12">q [&#197;</text>
<text class="lb" transform="translate(354.5 468) scale(0.9343 1)" font-size="13.04" x="-0.51 4.26">-1</text>
<text class="lb" transform="translate(370.4 473.6) scale(0.8953 1)" font-size="16.3" x="-0.13">]</text>
<text class="lb" transform="translate(428.7 42.6) scale(1.0568 1)" font-size="16.3" x="-2.18 8.52 17.53 26.98 36.87 42.74 47.32 61.67 71.18 81.18 86.02 96.1">Experimental</text>
<text class="lb" transform="translate(411.5 61.1) scale(0.9042 1)" font-size="16.3" x="-1.74 8.87 19.03 30.43">FoXS</text>
<text class="lb" transform="translate(453.6 61.1) scale(1.1954 1)" font-size="16.3" x="-0.17">&#967;</text>
<text class="lb" transform="translate(467.3 56) scale(0.9595 1)" font-size="13.04" x="-0.66">2</text>
<text class="lb" transform="translate(481.4 61.1) scale(1.0962 1)" font-size="16.3" x="-0.14 10.8 15.46 25 34.36 38.94">= 29.2</text>
</svg>
</body></html>
